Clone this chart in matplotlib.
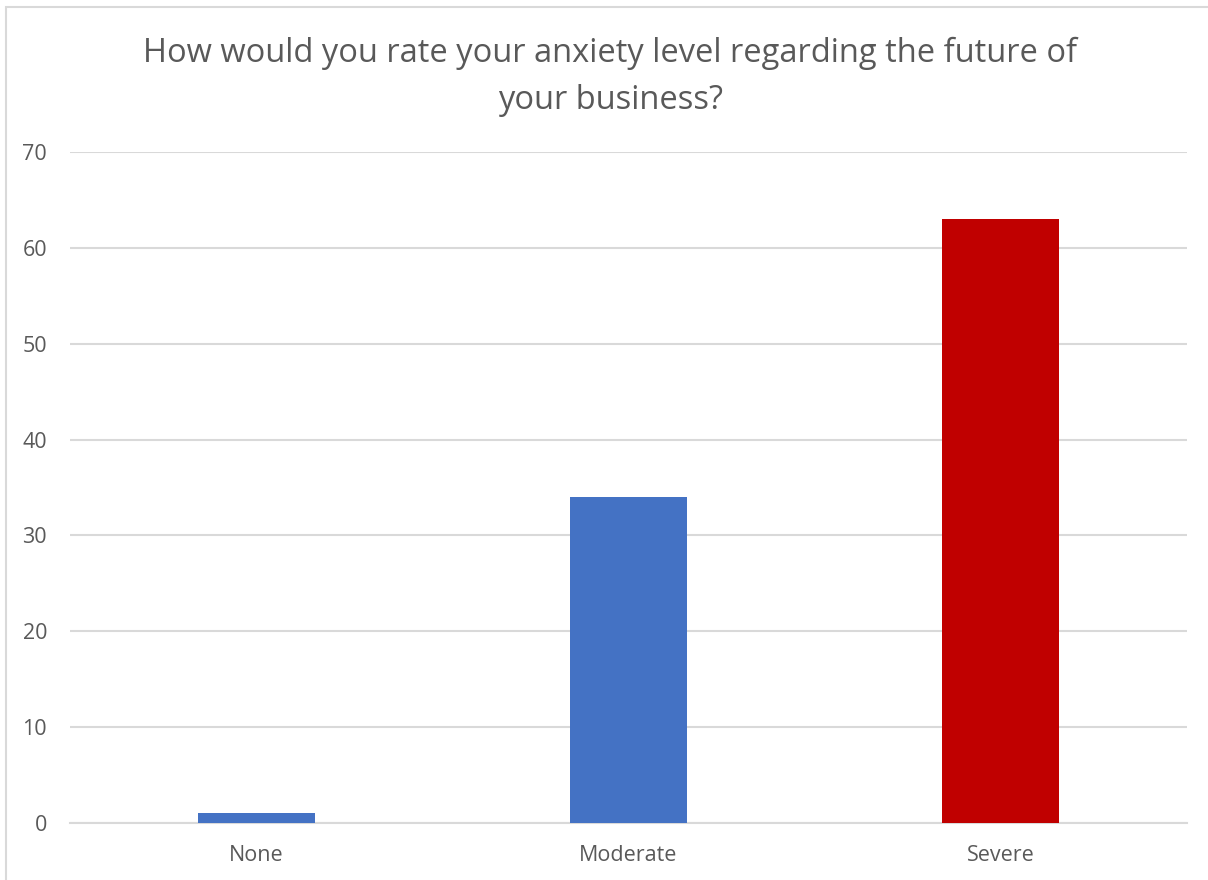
import matplotlib
matplotlib.use("Agg")
import matplotlib.pyplot as plt
from matplotlib.patches import Rectangle

categories = ["None", "Moderate", "Severe"]
counts = [1, 34, 63]
bar_colors = ["#4472C4", "#4472C4", "#C00000"]
y_ticks = [0, 10, 20, 30, 40, 50, 60, 70]
title = "How would you rate your anxiety level regarding the future of\nyour business?"

plt.rcParams["font.family"] = ["Open Sans", "DejaVu Sans"]
text_color = "#595959"
grid_color = "#D9D9D9"

fig = plt.figure(figsize=(12.08, 8.8), dpi=100)
fig.patches.append(Rectangle((6 / 1208, -0.01), 1.02, 1 - 7 / 880 + 0.01,
                             transform=fig.transFigure, fill=False,
                             edgecolor="#D9D9D9", linewidth=1.5))

ax = fig.add_axes([70 / 1208, 57 / 880, 1117 / 1208, 671 / 880])
x = range(len(categories))
ax.bar(x, counts, width=0.315, color=bar_colors, zorder=3)

ax.set_xlim(-0.5, len(categories) - 0.5)
ax.set_ylim(0, 70)
ax.set_yticks(y_ticks)
ax.set_xticks(list(x))
ax.set_xticklabels(categories)
ax.yaxis.grid(True, color=grid_color, linewidth=1.5, zorder=0)
ax.set_axisbelow(True)
for side in ("top", "right", "left"):
    ax.spines[side].set_visible(False)
ax.spines["bottom"].set_color(grid_color)
ax.spines["bottom"].set_linewidth(1.5)
ax.tick_params(axis="both", length=0, colors=text_color, labelsize=15.5)
ax.tick_params(axis="y", pad=16.5)
ax.tick_params(axis="x", pad=16)

fig.text(0.505, 1 - 77 / 880, title, ha="center", va="center",
         fontsize=23.5, color=text_color, linespacing=1.59)

fig.savefig("out.png", dpi=100)
